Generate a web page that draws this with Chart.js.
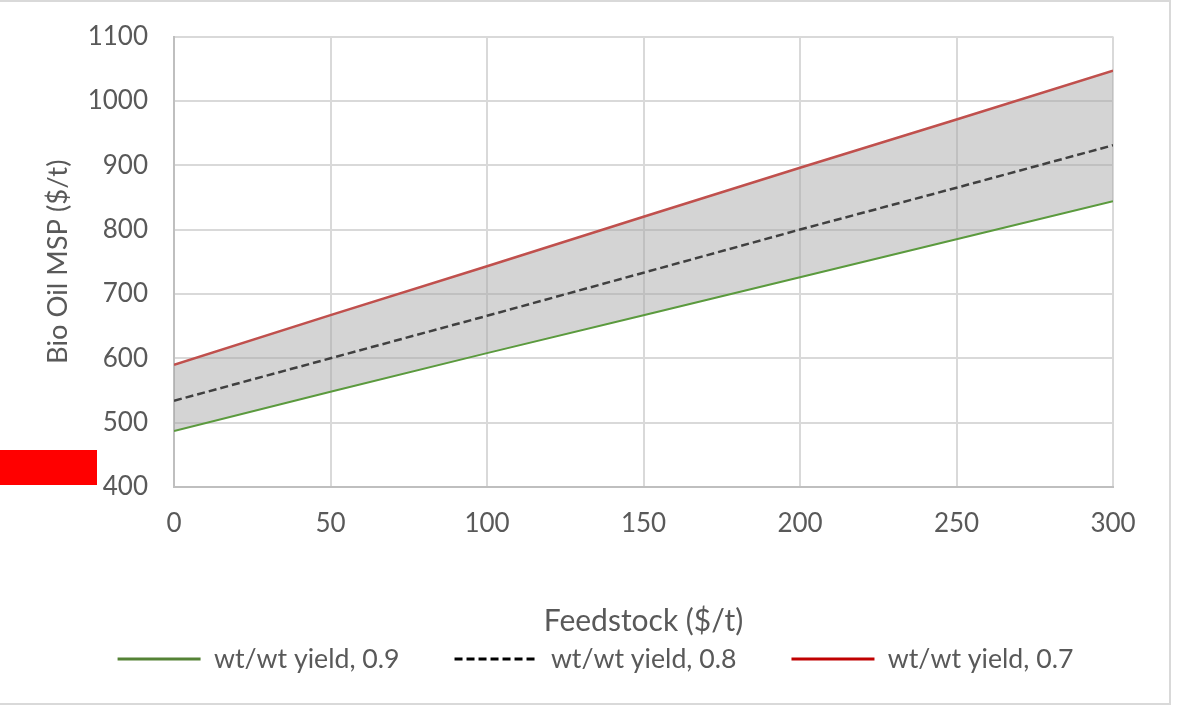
<!DOCTYPE html>
<html>
<head>
<meta charset="utf-8">
<script src="https://cdn.jsdelivr.net/npm/chart.js@4/dist/chart.umd.min.js"></script>
<style>
  html, body { margin: 0; padding: 0; background: #fff; }
  #wrap { position: relative; width: 1179px; height: 705px; overflow: hidden; }
  #frame { position: absolute; left: -2px; top: 0px; width: 1169px; height: 701px;
           border: 2px solid #d9d9d9; box-sizing: content-box; pointer-events: none; }
  #redbox { position: absolute; left: 0; top: 450px; width: 97px; height: 35px; background: #ff0000; }
</style>
</head>
<body>
<div id="wrap">
  <canvas id="c" width="1179" height="705"></canvas>
  <div id="frame"></div>
  <div id="redbox"></div>
</div>
<script>
// ---- data ----
const feedstock = [0, 50, 100, 150, 200, 250, 300];
const yield09 = [487, 548, 608, 667, 726, 785, 844];
const yield08 = [534, 600, 666, 733, 800, 865, 931];
const yield07 = [590, 667, 743, 820, 896, 971, 1047];
const seriesNames = ['wt/wt yield, 0.9', 'wt/wt yield, 0.8', 'wt/wt yield, 0.7'];
const xTitle = 'Feedstock ($/t)';
const yTitle = 'Bio Oil MSP ($/t)';

const FONT = 'Lato';
const TXT = '#595959';
const toPts = arr => feedstock.map((x, i) => ({ x: x, y: arr[i] }));

const legendStyles = [
  { strokeStyle: '#548235', lineWidth: 3, lineDash: [] },
  { strokeStyle: '#000000', lineWidth: 3, lineDash: [8, 4] },
  { strokeStyle: '#c00000', lineWidth: 3, lineDash: [] }
];

const PAD_LEFT = 12;

new Chart(document.getElementById('c'), {
  type: 'line',
  data: {
    datasets: [
      { label: seriesNames[0], data: toPts(yield09), borderColor: '#5b9a3e', borderWidth: 2,
        pointRadius: 0, fill: false, tension: 0 },
      { label: seriesNames[1], data: toPts(yield08), borderColor: '#404040', borderWidth: 2.5,
        borderDash: [8, 4], pointRadius: 0, fill: false, tension: 0 },
      { label: seriesNames[2], data: toPts(yield07), borderColor: '#c0504d', borderWidth: 2.5,
        pointRadius: 0, fill: { target: 0 }, backgroundColor: 'rgba(164,164,164,0.47)', tension: 0 }
    ]
  },
  options: {
    responsive: false,
    animation: false,
    events: [],
    layout: { padding: { top: 36.5, right: 0, left: PAD_LEFT, bottom: 22.6 } },
    plugins: {
      tooltip: { enabled: false },
      legend: {
        position: 'bottom',
        align: 'center',
        labels: {
          usePointStyle: true,
          pointStyleWidth: 83,
          padding: 55,
          color: TXT,
          font: { family: FONT, size: 26.7 },
          generateLabels: (chart) => chart.data.datasets.map((ds, i) => ({
            text: ds.label,
            fillStyle: 'rgba(0,0,0,0)',
            strokeStyle: legendStyles[i].strokeStyle,
            lineWidth: legendStyles[i].lineWidth,
            lineDash: legendStyles[i].lineDash,
            pointStyle: 'line',
            fontColor: TXT,
            hidden: false,
            datasetIndex: i
          }))
        }
      }
    },
    scales: {
      x: {
        type: 'linear',
        min: 0, max: 300,
        ticks: { stepSize: 50, color: TXT, font: { family: FONT, size: 26 }, padding: 21, maxRotation: 0,
                 callback: (v) => String(v) },
        grid: { color: '#d9d9d9', lineWidth: 2, drawTicks: false },
        border: { color: '#bfbfbf', width: 2 },
        title: { display: true, text: xTitle, color: TXT, font: { family: FONT, size: 30 },
                 padding: { top: 0, bottom: -48.3 } },
        afterFit: (s) => { s.height = 103.7; }
      },
      y: {
        min: 400, max: 1100,
        ticks: { stepSize: 100, color: TXT, font: { family: FONT, size: 26 }, padding: 26,
                 callback: (v) => String(v) },
        grid: { color: '#d9d9d9', lineWidth: 2, drawTicks: false },
        border: { color: '#bfbfbf', width: 2 },
        title: { display: true, text: yTitle, color: TXT, font: { family: FONT, size: 27.4 },
                 padding: { top: 58 - PAD_LEFT - 27.4 * 1.2 / 2, bottom: 0 } },
        afterFit: (s) => { s.width = 174 - PAD_LEFT; s.paddingTop = 0; s.paddingBottom = 0; }
      },
      yRightSpace: {
        position: 'right',
        min: 0, max: 1,
        ticks: { display: false },
        grid: { display: false, drawTicks: false },
        border: { display: false },
        afterFit: (s) => { s.width = 66; s.paddingTop = 0; s.paddingBottom = 0; }
      }
    }
  }
});
</script>
</body>
</html>
